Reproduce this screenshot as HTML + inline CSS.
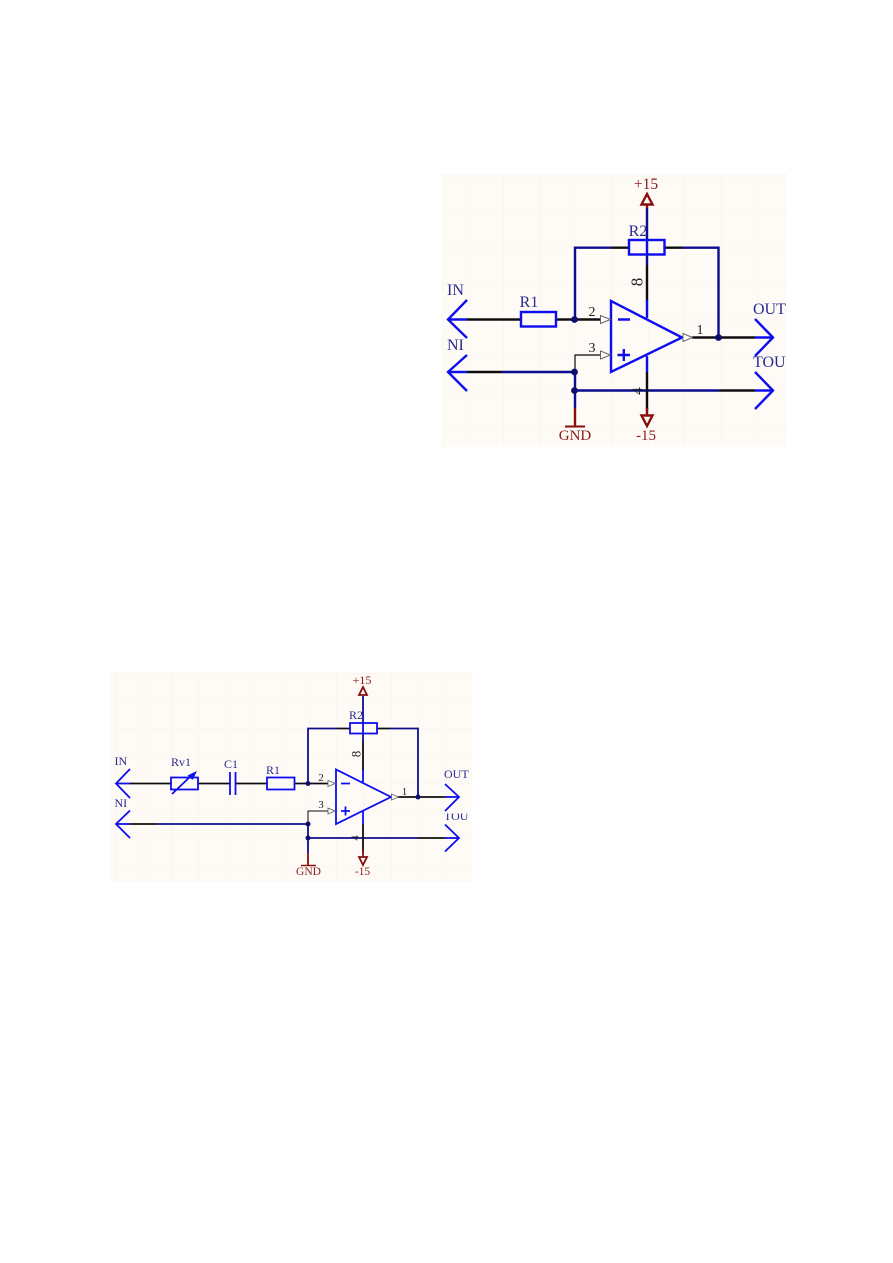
<!DOCTYPE html>
<html>
<head>
<meta charset="utf-8">
<style>
html,body{margin:0;padding:0;background:#fff;width:893px;height:1263px;overflow:hidden}
svg{display:block;position:absolute;left:0;top:0}
text{font-family:"Liberation Serif",serif}
.k{stroke:#111;fill:none}
.n{stroke:#0a0a90;fill:none}
.b{stroke:#0f0fef;fill:none}
.r{stroke:#8a0f0f;fill:none}
.lb{fill:#2a2a90}
.lr{fill:#8a1a1a}
.lk{fill:#222}
</style>
</head>
<body>
<svg width="893" height="1263" viewBox="0 0 893 1263" xmlns="http://www.w3.org/2000/svg">
<defs>
<pattern id="g1" x="466.7" y="211.7" width="36.3" height="36" patternUnits="userSpaceOnUse">
<path d="M0 0V36M0 0H36.3" stroke="#f6f2ec" stroke-width="1" fill="none"/>
</pattern>
<pattern id="g2" x="143.7" y="700.7" width="27.5" height="27.5" patternUnits="userSpaceOnUse">
<path d="M0 0V27.5M0 0H27.5" stroke="#f6f2ec" stroke-width="1" fill="none"/>
</pattern>
<filter id="s" x="-5%" y="-5%" width="110%" height="110%"><feGaussianBlur stdDeviation="0.3"/></filter>
<clipPath id="tc"><rect x="440" y="813.5" width="35" height="12"/></clipPath>
</defs>

<rect x="441" y="174" width="346" height="273" fill="#fefbf6"/>
<rect x="441" y="174" width="346" height="273" fill="url(#g1)"/>
<rect x="110" y="672" width="362" height="210" fill="#fefbf6"/>
<rect x="110" y="672" width="362" height="210" fill="url(#g2)"/>

<g filter="url(#s)">
<!-- Diagram 1 -->
<g stroke-width="2.4">
<path class="r" d="M647 204V208"/>
<path class="n" d="M647 208V240M647 254V265"/>
<path class="k" d="M647 265V302"/>
<path class="b" d="M647 240V254M647 300V318"/>
<path class="n" d="M612 247.7H575V319M682 247.7H718.5V337.5"/>
<path class="k" d="M612 247.7H629M664 247.7H682"/>
<path class="b" d="M448 319.5H467"/>
<path class="k" d="M467 319.5H521M556 319.5H600"/>
<path class="b" d="M448 372H467"/>
<path class="k" d="M467 372H502"/>
<path class="n" d="M502 372H575"/>
<path class="n" d="M575 372V408M575 390.5H719"/>
<path class="k" d="M719 390.5H755"/>
<path class="b" d="M755 390.5H773"/>
<path class="k" d="M692 337.5H755"/>
<path class="b" d="M755 337.5H773"/>
<path class="b" d="M647 356V372"/>
<path class="k" d="M647 372V410"/>
<path class="r" d="M647 408V415M575 408V426"/>
</g>
<path class="k" stroke-width="1.2" d="M575 372V355H600"/>
<g stroke-width="2.4">
<path class="b" d="M467 300L448 319.5L467 338"/>
<path class="b" d="M467 355L448 372L467 391"/>
<path class="b" d="M755 319L773 337.5L755 356"/>
<path class="b" d="M755 372L773 390.5L755 409"/>
<rect class="b" x="521" y="312" width="35" height="14.5"/>
<rect class="b" x="629" y="240" width="35.5" height="14.5"/>
<path class="b" d="M611 301V372L682 337.5Z"/>
<path class="b" d="M618 319.5H630M617.5 355H630M623.8 349V361"/>
</g>
<g fill="#fff" stroke="#666" stroke-width="1">
<path d="M600.5 315.5L610.5 319.5L600.5 323.5Z"/>
<path d="M600.5 351L610.5 355L600.5 359Z"/>
<path d="M683 333.5L692.5 337.5L683 341.5Z"/>
</g>
<path class="r" stroke-width="2.4" d="M647 194L641.5 204.5H652.5Z"/>
<path class="r" stroke-width="2.4" d="M641.5 415.5H652.5L647 426Z"/>
<path class="r" stroke-width="2" d="M565 426.5H585"/>
<g fill="#0a0a70">
<circle cx="574.5" cy="319.5" r="3.4"/>
<circle cx="574.5" cy="372" r="3.4"/>
<circle cx="574.5" cy="390.5" r="3.4"/>
<circle cx="718.5" cy="337.5" r="3.4"/>
</g>
<g font-size="16">
<text class="lr" x="646" y="189" text-anchor="middle" font-size="15.5">+15</text>
<text class="lb" x="638" y="236" text-anchor="middle">R2</text>
<text class="lb" x="447" y="295">IN</text>
<text class="lb" x="529" y="307" text-anchor="middle">R1</text>
<text class="lb" x="447" y="350">NI</text>
<text class="lb" x="753" y="314">OUT</text>
<text class="lb" x="753" y="367">TOU</text>
<text class="lk" x="592" y="316" text-anchor="middle" font-size="14">2</text>
<text class="lk" x="592" y="352" text-anchor="middle" font-size="14">3</text>
<text class="lk" x="700" y="334" text-anchor="middle" font-size="14">1</text>
<text class="lk" transform="translate(642 391) rotate(-90)" x="0" y="0" text-anchor="middle" font-size="15">4</text>
<text class="lk" transform="translate(642.5 282) rotate(-90)" x="0" y="0" text-anchor="middle" font-size="17">8</text>
<text class="lr" x="575" y="440" text-anchor="middle" font-size="15">GND</text>
<text class="lr" x="646" y="440" text-anchor="middle" font-size="15">-15</text>
</g>

<!-- Diagram 2 -->
<g stroke-width="1.8">
<path class="n" d="M363 696V723M363 733V742"/>
<path class="b" d="M363 723V733M363 769V782"/>
<path class="k" d="M363 742V770"/>
<path class="b" d="M116 783.5H130"/>
<path class="k" d="M130 783.5H171M198 783.5H230M236 783.5H267M294 783.5H328"/>
<path class="b" d="M116 824H130"/>
<path class="k" d="M130 824H157"/>
<path class="n" d="M157 824H308V853M308 838H418"/>
<path class="k" d="M418 838H445"/>
<path class="b" d="M445 838H459"/>
<path class="n" d="M337 728.5H308V783.5M390 728.5H418V797"/>
<path class="k" d="M337 728.5H350M377 728.5H390"/>
<path class="k" d="M398 797H445"/>
<path class="b" d="M445 797H459"/>
<path class="b" d="M363 811V824"/>
<path class="k" d="M363 824V852"/>
<path class="r" d="M363 850V857M308 853V865"/>
</g>
<path class="k" stroke-width="1" d="M308 824V811H328"/>
<g stroke-width="1.8">
<path class="b" d="M130 769L116 783.5L130 798"/>
<path class="b" d="M130 810.5L116 824L130 838"/>
<path class="b" d="M445 784L459 797L445 811"/>
<path class="b" d="M445 824.5L459 838L445 851.5"/>
<rect class="b" x="171" y="777.5" width="27" height="12"/>
<rect class="b" x="267" y="777.5" width="27.5" height="12"/>
<rect class="b" x="350" y="723" width="27" height="10.5"/>
<path class="b" d="M230 772V795M235.5 772V795"/>
<path class="b" d="M172 794L194 773"/>
<path class="b" d="M336 769.5V824L391 797Z"/>
<path class="b" d="M341 783.5H350M341 811H350M345.5 806.5V815.5"/>
</g>
<path d="M197 771L187.5 775.5L192.5 780Z" fill="#0f0fef"/>
<g fill="#fff" stroke="#666" stroke-width="0.9">
<path d="M328 780.5L335 783.5L328 786.5Z"/>
<path d="M328 808L335 811L328 814Z"/>
<path d="M391.5 794L398.5 797L391.5 800Z"/>
</g>
<path class="r" stroke-width="1.8" d="M363 687L359 695H367Z"/>
<path class="r" stroke-width="1.8" d="M359 857H367L363 865Z"/>
<path class="r" stroke-width="1.5" d="M301 865.5H316"/>
<g fill="#0a0a70">
<circle cx="308" cy="783.5" r="2.5"/>
<circle cx="308" cy="824" r="2.5"/>
<circle cx="308" cy="838" r="2.5"/>
<circle cx="418" cy="797" r="2.5"/>
</g>
<g font-size="12">
<text class="lr" x="362" y="684" text-anchor="middle" font-size="12">+15</text>
<text class="lb" x="356" y="719" text-anchor="middle">R2</text>
<text class="lb" x="114.5" y="765">IN</text>
<text class="lb" x="114.5" y="807">NI</text>
<text class="lb" x="181" y="766" text-anchor="middle">Rv1</text>
<text class="lb" x="231" y="768" text-anchor="middle">C1</text>
<text class="lb" x="273" y="774" text-anchor="middle">R1</text>
<text class="lb" x="444" y="778">OUT</text>
<text class="lb" x="444" y="820" clip-path="url(#tc)">TOU</text>
<text class="lk" x="321" y="781" text-anchor="middle" font-size="11">2</text>
<text class="lk" x="321" y="808" text-anchor="middle" font-size="11">3</text>
<text class="lk" x="404.5" y="795" text-anchor="middle" font-size="11">1</text>
<text class="lk" transform="translate(358.5 838) rotate(-90)" x="0" y="0" text-anchor="middle" font-size="10.5">4</text>
<text class="lk" transform="translate(360.3 754) rotate(-90)" x="0" y="0" text-anchor="middle" font-size="13">8</text>
<text class="lr" x="308.5" y="875" text-anchor="middle" font-size="11.5">GND</text>
<text class="lr" x="362.5" y="875" text-anchor="middle" font-size="11.5">-15</text>
</g>
</g>
</svg>
</body>
</html>
